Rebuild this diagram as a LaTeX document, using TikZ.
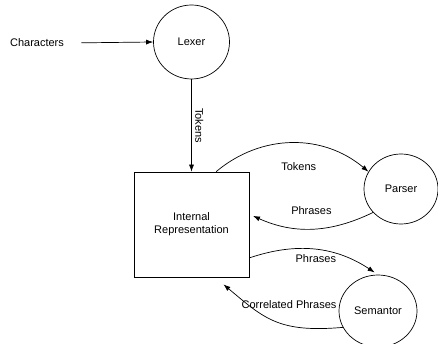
\documentclass[tikz,border=0pt]{standalone}
\usepackage{fontspec}
\setmainfont{Liberation Sans}
\usetikzlibrary{shapes.geometric,arrows.meta}

\begin{document}
\begin{tikzpicture}[x=1pt,y=1pt,
	every node/.style={font=\fontsize{11}{13}\selectfont},
	proc/.style={draw,ellipse,inner sep=0pt,line width=0.7pt},
	flow/.style={-{Latex[length=7pt,width=5pt]},line width=0.7pt}]
	\useasboundingbox (0,0) rectangle (438,-344);
	\node (chars) at (37,-43) {Characters};
	\node[proc,minimum width=76pt,minimum height=74pt] (lexer) at (191.5,-42) {Lexer};
	\node[draw,line width=0.7pt,minimum width=115pt,minimum height=105pt,align=center] (irep) at (191.5,-224.5) {Internal\\Representation};
	\node[proc,minimum width=74pt,minimum height=70pt] (parser) at (401,-189) {Parser};
	\node[proc,minimum width=78pt,minimum height=72pt] (sem) at (378,-311) {Semantor};
	%\draw[very thin,gray] (0,0) grid (438,-344);
	\draw[flow,shorten <=14pt] (chars.east) -- (lexer.west);
	\draw[flow] (lexer) -- (irep) node[midway,anchor=south,rotate=-90] {Tokens};
	\draw[flow] (irep.65) to[bend left=40] node[pos=0.54,below=16pt] {Tokens} (parser.152);
	\draw[flow,shorten >=4pt] (parser.220) to[bend left=25] node[midway,above=10pt] {Phrases} (irep.10);
	\draw[flow,shorten >=4pt] (irep.-30) to[bend left=26] node[midway,below=1pt] {Phrases} (sem.north);
	\draw[flow,shorten >=11pt] (sem.205) to[out=185,in=-40,looseness=1.2] node[pos=0.36,above=13pt] {Correlated Phrases} (irep.-66);
\end{tikzpicture}
\end{document}
